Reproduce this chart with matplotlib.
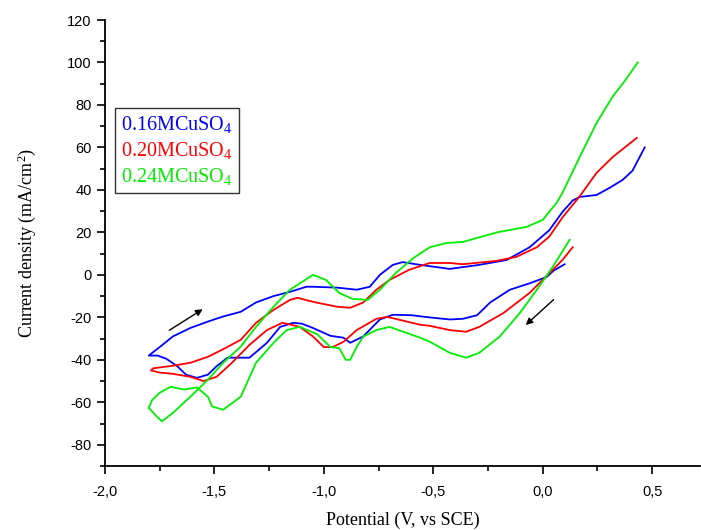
import matplotlib
matplotlib.use("Agg")
import matplotlib.pyplot as plt
from matplotlib.ticker import MultipleLocator, FuncFormatter

# 0.16 M CuSO4 : reverse branch (right -> left) then forward branch (left -> right)
blue_v = [0.10, 0.05, 0.018, -0.06, -0.15, -0.24, -0.30, -0.365, -0.425, -0.52, -0.60,
          -0.685, -0.744, -0.82, -0.88, -0.91, -0.97, -1.05, -1.10, -1.14, -1.20, -1.26,
          -1.34, -1.40, -1.44, -1.49, -1.53, -1.58, -1.63, -1.67, -1.72, -1.76, -1.80,
          -1.75, -1.69, -1.61, -1.53, -1.46, -1.38, -1.31, -1.23, -1.155, -1.08, -1.05,
          -0.94, -0.85, -0.79, -0.744, -0.685, -0.64, -0.56, -0.425, -0.29, -0.165, -0.06,
          0.03, 0.09, 0.137, 0.169, 0.246, 0.306, 0.365, 0.41, 0.466]
blue_i = [5, 2, -1, -4, -7, -13, -19, -20.7, -21, -20, -19,
          -18.8, -21, -29, -32, -29.6, -28.7, -25, -23, -22.6, -24.5, -32,
          -39, -39, -39, -43, -47, -48.5, -47, -43, -39.5, -38, -38,
          -34, -29, -25, -22, -19.6, -17.4, -13, -10, -8, -5.6, -5.6,
          -6, -7, -5.6, 0, 4.7, 6, 4.7, 2.8, 4.7, 7, 13,
          21, 29.6, 35, 36.7, 37.6, 41, 44.7, 49, 60]

# 0.20 M CuSO4
red_v = [0.137, 0.09, 0.046, -0.06, -0.18, -0.29, -0.35, -0.425, -0.516, -0.56, -0.71,
         -0.76, -0.85, -0.91, -0.96, -1.00, -1.05, -1.11, -1.17, -1.19, -1.26, -1.34,
         -1.42, -1.49, -1.55, -1.61, -1.69, -1.75, -1.79,
         -1.78, -1.69, -1.61, -1.53, -1.46, -1.38, -1.31, -1.23, -1.155, -1.12, -1.05,
         -0.94, -0.88, -0.82, -0.76, -0.70, -0.61, -0.516, -0.425, -0.365, -0.21, -0.12,
         -0.027, 0.03, 0.09, 0.169, 0.246, 0.32, 0.43]
red_i = [13, 7, 2.4, -8.5, -18, -24.5, -26.8, -26, -24, -23.5, -19.8,
         -20.7, -26, -31.5, -34, -34, -29, -24.5, -23, -22.6, -26, -33,
         -41.4, -48, -50, -48, -46.6, -46, -45,
         -44, -42.8, -41.4, -38.6, -35, -30.6, -22.6, -16.5, -11.8, -10.8, -12.7,
         -15, -15.5, -13, -7, -2.4, 2.4, 5.6, 5.6, 5, 6.6, 8.5,
         13, 18, 27, 37, 48, 55.5, 64.5]

# 0.24 M CuSO4
green_v = [0.123, 0.046, -0.027, -0.105, -0.196, -0.29, -0.35, -0.425, -0.516, -0.56, -0.70,
           -0.76, -0.82, -0.85, -0.88, -0.90, -0.93, -0.97, -1.03, -1.11, -1.17, -1.20,
           -1.23, -1.31, -1.38, -1.46, -1.51, -1.53, -1.58, -1.64, -1.70, -1.75, -1.785,
           -1.80, -1.77, -1.74,
           -1.69, -1.61, -1.53, -1.46, -1.38, -1.31, -1.23, -1.155, -1.12, -1.05, -0.99,
           -0.93, -0.87, -0.80, -0.744, -0.67, -0.59, -0.516, -0.44, -0.365, -0.21, -0.073,
           0.0, 0.064, 0.09, 0.169, 0.246, 0.32, 0.38, 0.434]
green_i = [16.5, 3.8, -7, -18, -29, -36.7, -39, -36.7, -31.5, -29.6, -24.5,
           -26, -29, -34, -40, -40, -34.5, -34, -28, -24.5, -26, -29,
           -32, -41.4, -57.4, -63.5, -62, -57.4, -53, -54, -52.7, -55.5, -59,
           -62.6, -66, -69,
           -65, -57.4, -49.4, -41.4, -33.8, -24.5, -15, -7, -4.7, 0, -2.4,
           -8.5, -11.3, -11.8, -7, 1, 8, 13, 15, 15.5, 20, 22.6,
           25.9, 34, 38.6, 55.5, 71.5, 84, 92, 100]

labels = [r"0.16MCuSO$_4$", r"0.20MCuSO$_4$", r"0.24MCuSO$_4$"]
colors = ["#0000ff", "#ff0000", "#00ee00"]

plt.rcParams["mathtext.fontset"] = "custom"
plt.rcParams["mathtext.rm"] = "Liberation Serif"
plt.rcParams["mathtext.it"] = "Liberation Serif:italic"

fig = plt.figure(figsize=(7.01, 5.30), dpi=100)
ax = fig.add_axes([105/701, 1-466/530, 1-105/701-0.001, (466-20)/530])

lines = []
for v, i, c, lab in zip([blue_v, red_v, green_v], [blue_i, red_i, green_i], colors, labels):
    l, = ax.plot(v, i, color=c, lw=1.3, label=lab)
    lines.append(l)

# scan direction arrows
ax.annotate("", xy=(-1.543, -15.5), xytext=(-1.717, -26.8),
            arrowprops=dict(arrowstyle="-|>", color="black", lw=1, mutation_scale=10))
ax.annotate("", xy=(-0.087, -24.5), xytext=(0.059, -10.8),
            arrowprops=dict(arrowstyle="-|>", color="black", lw=1, mutation_scale=10))

ax.set_xlim(-2.0, 0.72)
ax.set_ylim(-90, 120)
ax.xaxis.set_major_locator(MultipleLocator(0.5))
ax.xaxis.set_minor_locator(MultipleLocator(0.25))
ax.yaxis.set_major_locator(MultipleLocator(20))
ax.yaxis.set_minor_locator(MultipleLocator(10))
ax.xaxis.set_major_formatter(FuncFormatter(lambda x, p: ("%.1f" % x).replace(".", ",")))
ax.yaxis.set_major_formatter(FuncFormatter(lambda y, p: "%d" % y))

ax.spines["top"].set_visible(False)
ax.spines["right"].set_visible(False)
ax.spines["left"].set_linewidth(1.3)
ax.spines["bottom"].set_linewidth(1.3)
ax.tick_params(which="major", direction="out", length=6, width=1.2, labelsize=10.5)
ax.tick_params(axis="x", which="major", pad=8)
ax.tick_params(which="minor", direction="out", length=3.5, width=1.2)
for t in ax.get_xticklabels() + ax.get_yticklabels():
    t.set_fontfamily("Liberation Sans")

ax.set_xlabel("Potential (V, vs SCE)", family="Liberation Serif", fontsize=13, labelpad=9)
ax.set_ylabel(r"Current density (mA/cm$^2$)", family="Liberation Serif", fontsize=13, labelpad=21)

leg = ax.legend(handles=lines, loc="upper left", bbox_to_anchor=(0.017, 0.803),
                borderaxespad=0, handlelength=0, handletextpad=0, fancybox=False,
                framealpha=1, edgecolor="#333333", borderpad=0.3, labelspacing=0.25,
                prop={"family": "Liberation Serif", "size": 14.5})
leg.get_frame().set_linewidth(1.0)
for h in leg.legend_handles:
    h.set_visible(False)
for txt, c in zip(leg.get_texts(), colors):
    txt.set_color(c)

fig.savefig("out.png", dpi=100)
